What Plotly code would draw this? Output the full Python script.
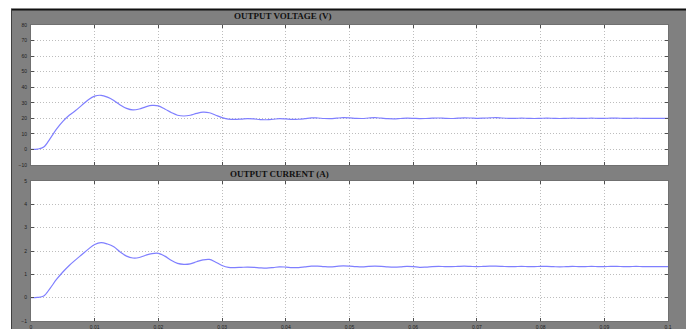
import plotly.graph_objects as go

# time axis (s)
t = [i / 1000 for i in range(101)]

voltage = [
    0.0, 0.2, 1.5, 7.0, 13.0, 18.0, 22.0, 25.0, 28.5, 32.0,
    34.3, 34.8, 33.6, 31.5, 28.6, 26.4, 25.4, 26.0, 27.4, 28.3,
    28.0, 26.0, 23.8, 22.0, 21.5, 22.0, 23.2, 24.0, 23.6, 22.0,
    20.5, 19.5, 19.3, 19.5, 19.8, 19.6, 19.2, 19.1, 19.4, 19.8,
    19.6, 19.3, 19.4, 19.8, 20.3, 20.2, 19.9, 19.8, 20.1, 20.4,
    20.3, 20.0, 19.9, 20.2, 20.4, 20.1, 19.8, 19.7, 19.9, 20.1,
    20.0, 19.8, 19.9, 20.1, 20.2, 20.0, 19.9, 20.1, 20.3, 20.2,
    20.0, 20.1, 20.3, 20.5, 20.2, 20.0, 20.0, 20.1, 20.0, 19.9,
    20.0, 20.1, 20.0, 19.9, 20.0, 20.1, 20.0, 20.0, 20.1, 20.0,
    20.0, 20.1, 20.1, 20.0, 20.0, 20.1, 20.0, 20.0, 20.0, 20.0,
    20.0,
]

current = [
    0.0, 0.01, 0.07, 0.40, 0.78, 1.10, 1.38, 1.62, 1.85, 2.08,
    2.28, 2.36, 2.30, 2.18, 1.96, 1.78, 1.70, 1.72, 1.82, 1.89,
    1.90, 1.78, 1.60, 1.47, 1.43, 1.45, 1.54, 1.62, 1.64, 1.52,
    1.38, 1.30, 1.29, 1.30, 1.31, 1.30, 1.28, 1.27, 1.29, 1.32,
    1.31, 1.29, 1.29, 1.32, 1.35, 1.35, 1.33, 1.32, 1.34, 1.36,
    1.35, 1.33, 1.32, 1.34, 1.35, 1.34, 1.32, 1.31, 1.32, 1.34,
    1.33, 1.30, 1.31, 1.33, 1.34, 1.33, 1.33, 1.34, 1.35, 1.34,
    1.33, 1.34, 1.35, 1.35, 1.34, 1.33, 1.33, 1.34, 1.33, 1.33,
    1.34, 1.34, 1.33, 1.32, 1.33, 1.34, 1.33, 1.33, 1.34, 1.33,
    1.33, 1.34, 1.34, 1.33, 1.33, 1.34, 1.33, 1.33, 1.33, 1.33,
    1.33,
]

x_ticks = [0, 0.01, 0.02, 0.03, 0.04, 0.05, 0.06, 0.07, 0.08, 0.09, 0.1]
x_tick_labels = ["0", "0.01", "0.02", "0.03", "0.04", "0.05", "0.06", "0.07", "0.08", "0.09", "0.1"]
v_ticks = [-10, 0, 10, 20, 30, 40, 50, 60, 70, 80]
i_ticks = [-1, 0, 1, 2, 3, 4, 5]

W, H = 686, 329


def px(x):
    return x / W


def py(y):
    return 1 - y / H


LINE = "#7f7fff"
GRAY = "#808080"

fig = go.Figure()
fig.add_trace(go.Scatter(x=t, y=voltage, mode="lines", line=dict(color=LINE, width=1.2, shape="spline"),
                         xaxis="x", yaxis="y", showlegend=False, hoverinfo="skip"))
fig.add_trace(go.Scatter(x=t, y=current, mode="lines", line=dict(color=LINE, width=1.2, shape="spline"),
                         xaxis="x2", yaxis="y2", showlegend=False, hoverinfo="skip"))

tickfont = dict(family="Liberation Sans", size=5, color="#202020")
GRID = "#bdbdbd"
common_x = dict(range=[0, 0.1], tickvals=x_ticks, ticktext=x_tick_labels, showgrid=True,
                gridcolor=GRID, griddash="1px,2px", gridwidth=1, ticks="inside", ticklen=3,
                tickcolor="#505050", mirror="ticks", showline=True, linecolor="#707070",
                linewidth=1, zeroline=False, tickfont=tickfont, domain=[px(31), px(668)],
                automargin=False, ticklabelstandoff=1)
common_y = dict(showgrid=True, gridcolor=GRID, griddash="1px,2px", gridwidth=1, ticks="inside",
                ticklen=3, tickcolor="#505050", mirror="ticks", showline=True, linecolor="#707070",
                linewidth=1, zeroline=False, tickfont=tickfont, automargin=False, ticklabelstandoff=2)

fig.update_layout(
    width=W, height=H,
    margin=dict(l=0, r=0, t=0, b=0, autoexpand=False),
    paper_bgcolor=GRAY,
    plot_bgcolor="white",
    xaxis=dict(**common_x, anchor="y", showticklabels=False),
    yaxis=dict(**common_y, range=[-10, 80], tickvals=v_ticks, domain=[py(165), py(25)], anchor="x"),
    xaxis2=dict(**common_x, anchor="y2", showticklabels=True),
    yaxis2=dict(**common_y, range=[-1, 5], tickvals=i_ticks, domain=[py(321), py(181)], anchor="x2"),
    shapes=[
        dict(type="rect", xref="paper", yref="paper", x0=0, x1=1, y0=py(9), y1=1,
             fillcolor="white", line=dict(width=0)),
        dict(type="rect", xref="paper", yref="paper", x0=0, x1=px(11), y0=0, y1=1,
             fillcolor="white", line=dict(width=0)),
        dict(type="line", xref="paper", yref="paper", x0=px(11), x1=1, y0=py(9.5), y1=py(9.5),
             line=dict(color="#111111", width=2)),
        dict(type="line", xref="paper", yref="paper", x0=px(11.5), x1=px(11.5), y0=0, y1=py(9),
             line=dict(color="#404040", width=1)),
    ],
    annotations=[
        dict(text="<b>OUTPUT VOLTAGE (V)</b>", xref="paper", yref="paper", x=px(232), y=py(16),
             xanchor="left", yanchor="middle", showarrow=False,
             font=dict(family="Liberation Serif", size=9, color="#111111")),
        dict(text="<b>OUTPUT CURRENT (A)</b>", xref="paper", yref="paper", x=px(228), y=py(174),
             xanchor="left", yanchor="middle", showarrow=False,
             font=dict(family="Liberation Serif", size=9, color="#111111")),
    ],
)

fig.write_html("out.html", config={"displayModeBar": False},
               post_script="document.body.style.margin='0';document.body.style.overflow='hidden';")
